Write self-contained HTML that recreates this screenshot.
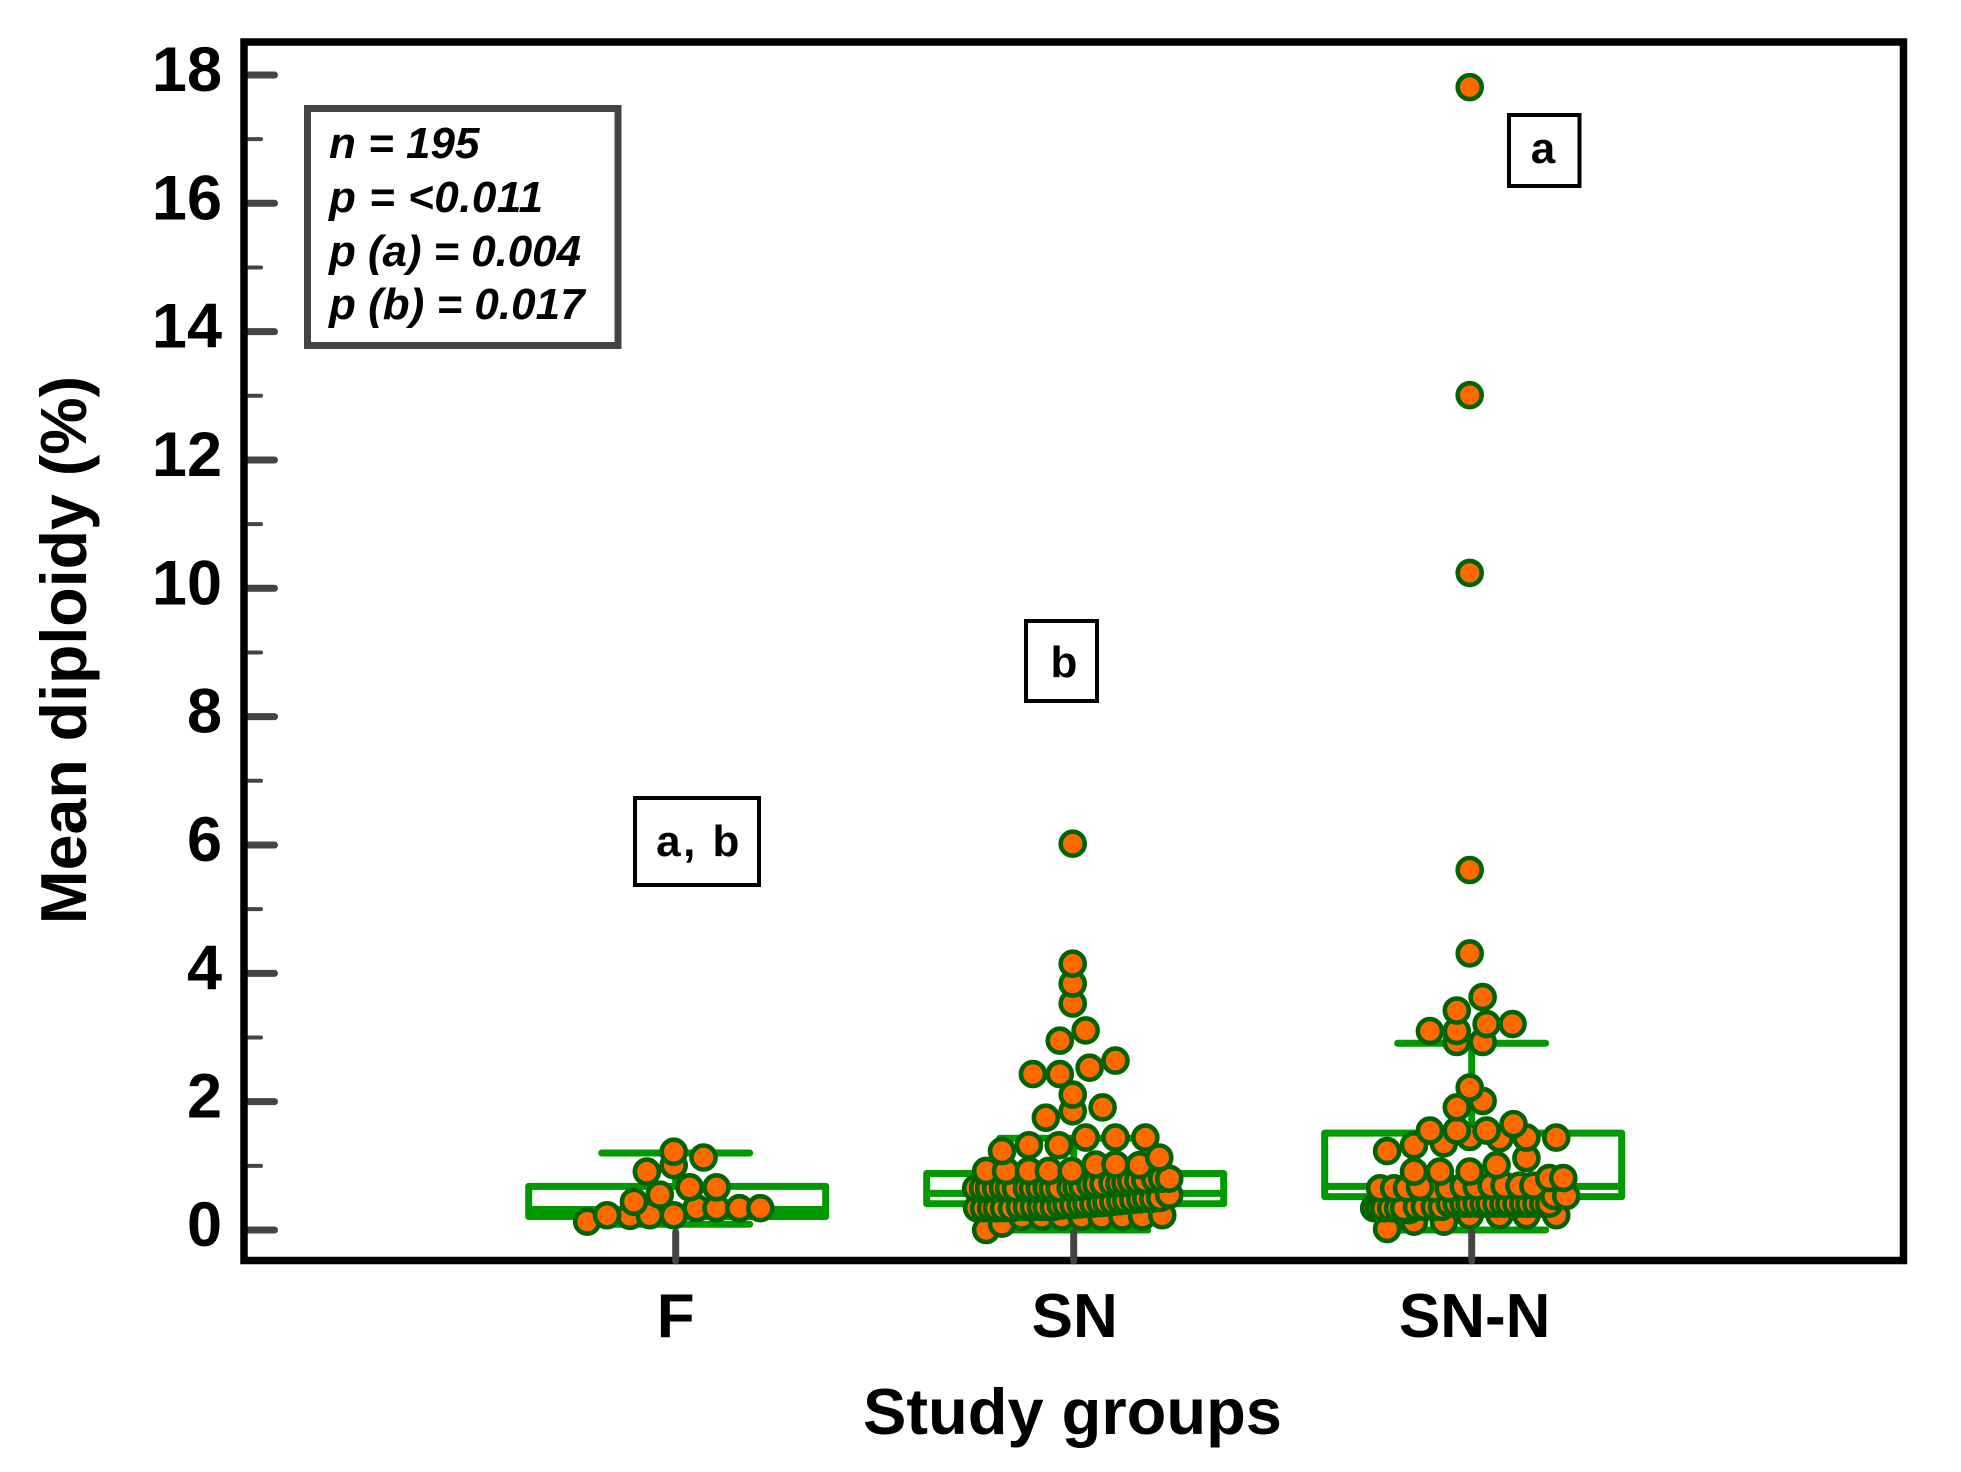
<!DOCTYPE html>
<html lang="en">
<head>
<meta charset="utf-8">
<title>Mean diploidy by study group</title>
<style>
  html, body { margin: 0; padding: 0; background: #fff; }
  svg { display: block; }
  text { font-family: "Liberation Sans", Arial, sans-serif; font-weight: bold; fill: #000; }
</style>
</head>
<body>
<svg id="chart" xmlns="http://www.w3.org/2000/svg" width="1961" height="1472" viewBox="0 0 1961 1472">
  <rect x="0" y="0" width="1961" height="1472" fill="#fff"/>
  <g id="y-ticks"></g>
  <g id="y-labels"></g>
  <g id="boxes"></g>
  <rect x="244" y="42" width="1659.5" height="1218.5" fill="none" stroke="#000" stroke-width="7.5"/>
  <g id="x-ticks"></g>
  <g id="x-labels"></g>
  <g id="points"></g>

  <text transform="translate(86,650) rotate(-90)" text-anchor="middle" font-size="64.5">Mean diploidy (%)</text>
  <text x="1072.5" y="1434" text-anchor="middle" font-size="65">Study groups</text>

  <g>
    <rect x="307.5" y="108.5" width="310.5" height="237" fill="#fff" stroke="#444" stroke-width="7"/>
    <text x="329" y="158" font-size="44" font-style="italic">n = 195</text>
    <text x="329" y="212" font-size="44" font-style="italic" letter-spacing="0.5">p = &lt;0.011</text>
    <text x="329" y="266" font-size="44" font-style="italic" letter-spacing="-0.1">p (a) = 0.004</text>
    <text x="329" y="319" font-size="44" font-style="italic">p (b) = 0.017</text>
  </g>

  <g>
    <rect x="635" y="798" width="124" height="87" fill="#fff" stroke="#000" stroke-width="4"/>
    <text x="699" y="856" text-anchor="middle" font-size="44" letter-spacing="2.5">a, b</text>
  </g>
  <g>
    <rect x="1026" y="621" width="71" height="80" fill="#fff" stroke="#000" stroke-width="4"/>
    <text x="1064" y="677" text-anchor="middle" font-size="44">b</text>
  </g>
  <g>
    <rect x="1509" y="115" width="70.5" height="71" fill="#fff" stroke="#000" stroke-width="4"/>
    <text x="1543" y="163" text-anchor="middle" font-size="44">a</text>
  </g>
</svg>
<script>
// ---- Axis data ----
var yMajorTicks = [0, 2, 4, 6, 8, 10, 12, 14, 16, 18];
var yMinorTicks = [1, 3, 5, 7, 9, 11, 13, 15, 17];
var categories = ['F', 'SN', 'SN-N'];

// ---- Box statistics (percent) ----
var whiskerLow  = [0.09, 0.00, 0.00];
var q1Values    = [0.21, 0.41, 0.52];
var medians     = [0.32, 0.57, 0.68];
var q3Values    = [0.68, 0.88, 1.51];
var whiskerHigh = [1.20, 1.43, 2.91];

// ---- Individual observations; offsets are swarm displacement in 1/400ths of a group spacing ----
var fValues = [0.13, 0.23, 0.22, 0.23, 0.23, 0.34, 0.34, 0.34, 0.34, 0.44, 0.55, 0.665, 0.665, 0.91, 1.01, 1.22, 1.13];
var fOffsets = [-89, -69, -46, -26, -2, 21, 41, 64, 85, -42, -16, 14, 41, -29, -2, -2, 28];

var snValues = [
  0.00, 0.10,
  0.21, 0.21, 0.21, 0.21, 0.21, 0.21, 0.21, 0.23,
  0.34, 0.34, 0.34, 0.34, 0.34, 0.34, 0.36, 0.36, 0.36, 0.36, 0.36, 0.36,
  0.38, 0.39, 0.39, 0.40, 0.41, 0.41, 0.42, 0.43, 0.44, 0.45, 0.46, 0.47, 0.48, 0.49, 0.49, 0.50,
  0.65, 0.65, 0.65, 0.65, 0.65, 0.65, 0.65, 0.65, 0.65, 0.65, 0.65, 0.65, 0.65,
  0.66, 0.67, 0.68, 0.70, 0.71, 0.72, 0.73, 0.73, 0.74, 0.76, 0.77, 0.78, 0.79, 0.80,
  0.55, 0.80,
  0.92, 0.92, 0.92, 0.92, 0.92, 1.02, 1.02, 1.01, 1.13, 1.23, 1.32, 1.32, 1.44, 1.44, 1.44,
  1.75, 1.85, 1.91, 2.11, 2.43, 2.43, 2.53, 2.64, 2.95, 3.11, 3.53, 3.84, 4.15, 6.02
];
var snOffsets = [
  -88, -72,
  -52, -32, -12, 8, 28, 49, 69, 89,
  -97, -90, -83, -77, -70, -62, -54, -47, -40, -33, -27, -20,
  -13, -7, 0, 7, 13, 20, 27, 33, 40, 47, 53, 60, 67, 73, 80, 87,
  -98, -91, -85, -78, -71, -65, -58, -47, -41, -34, -27, -21, -14,
  -3, 3, 9, 17, 23, 30, 39, 46, 52, 58, 65, 72, 82, 89,
  96, 96,
  -88, -68, -45, -25, -2, 22, 42, 66, 86, -72, -45, -15, 12, 42, 72,
  -28, -1, 29, -1, -41, -14, 16, 42, -14, 12, -1, -1, -1, -1
];

var snnValues = [
  0.015, 0.13, 0.13, 0.23, 0.23, 0.23, 0.23,
  0.34, 0.34, 0.34, 0.34, 0.34, 0.34, 0.31,
  0.36, 0.36, 0.36, 0.36,
  0.41, 0.41, 0.41, 0.41, 0.41, 0.41, 0.41, 0.41, 0.41, 0.41, 0.41, 0.41, 0.41, 0.41, 0.41, 0.41,
  0.53, 0.53,
  0.65, 0.65, 0.65, 0.67, 0.65, 0.65, 0.68, 0.68, 0.69, 0.69, 0.69, 0.69, 0.81, 0.81,
  0.91, 0.91, 0.91, 1.01, 1.12, 1.23, 1.32, 1.35, 1.43, 1.44, 1.44, 1.45, 1.55, 1.55, 1.55, 1.65,
  1.91, 2.01, 2.22, 2.93, 2.93, 3.10, 3.10, 3.21, 3.21, 3.42, 3.63, 4.31, 5.61, 10.24, 13.01, 17.81
];
var snnOffsets = [
  -85, -58, -28, -2, 28, 55, 85,
  -98, -93, -88, -81, -74, -68, -63,
  -55, -47, -37, -30,
  -22, -15, -8, -2, 5, 12, 18, 25, 32, 38, 45, 52, 58, 65, 72, 78,
  83, 95,
  -92, -78, -65, -52, -38, -23, -8, 5, 20, 33, 48, 62, 78, 92,
  -58, -32, -2, 25, 55, -85, -58, -28, 28, 55, 85, -2, -42, -15, 15, 42,
  -15, 11, -2, -15, 11, -42, -15, 41, 15, -15, 11, -2, -2, -2, -2, -2
];

var groupValues = [fValues, snValues, snnValues];
var groupOffsets = [fOffsets, snOffsets, snnOffsets];
var labelShift = [0, 1, 3];

// ---- Scales ----
function yScale(v) { return 1230 - 64.17 * v; }
function xScale(g) { return 675.7 + 398 * g; }
var OFFSET_UNIT = 1 / 400;

var NS = 'http://www.w3.org/2000/svg';
function make(tag, attrs) {
  var el = document.createElementNS(NS, tag);
  for (var k in attrs) { el.setAttribute(k, attrs[k]); }
  return el;
}
function drawLine(parent, x1, y1, x2, y2, color, width, name) {
  var el = make('line', { x1: x1, y1: y1, x2: x2, y2: y2, stroke: color, 'stroke-width': width, 'stroke-linecap': 'round' });
  
  
  parent.appendChild(el);
}

// ---- Y axis ----
var yTickLayer = document.getElementById('y-ticks');
var yLabelLayer = document.getElementById('y-labels');
yMajorTicks.forEach(function (v) {
  drawLine(yTickLayer, 248, yScale(v), 274.5, yScale(v), '#444', 7, 'y-major-tick');
  var t = make('text', { x: 222, y: yScale(v) + 16, 'text-anchor': 'end', 'font-size': 63 });
  
  
  t.textContent = String(v);
  yLabelLayer.appendChild(t);
});
yMinorTicks.forEach(function (v) {
  drawLine(yTickLayer, 248, yScale(v), 261, yScale(v), '#444', 4, 'y-minor-tick');
});

// ---- Box plots ----
var boxLayer = document.getElementById('boxes');
var GREEN = '#009900';
categories.forEach(function (name, i) {
  var c = xScale(i);
  var bc = c + 1.5;
  var g = make('g', {});
  
  
  boxLayer.appendChild(g);
  drawLine(g, c, yScale(q3Values[i]), c, yScale(whiskerHigh[i]), GREEN, 7, 'whisker-upper');
  drawLine(g, c, yScale(q1Values[i]), c, yScale(whiskerLow[i]), GREEN, 7, 'whisker-lower');
  drawLine(g, c - 74, yScale(whiskerHigh[i]), c + 74, yScale(whiskerHigh[i]), GREEN, 7, 'whisker-cap-upper');
  drawLine(g, c - 74, yScale(whiskerLow[i]), c + 74, yScale(whiskerLow[i]), GREEN, 7, 'whisker-cap-lower');
  var box = make('rect', {
    x: bc - 148.5, y: yScale(q3Values[i]), width: 297,
    height: yScale(q1Values[i]) - yScale(q3Values[i]),
    fill: '#fff', stroke: GREEN, 'stroke-width': 7, 'stroke-linejoin': 'round'
  });
  
  
  g.appendChild(box);
  drawLine(g, bc - 148.5, yScale(medians[i]), bc + 148.5, yScale(medians[i]), GREEN, 7, 'median-line');
});

// ---- X axis ----
var xTickLayer = document.getElementById('x-ticks');
var xLabelLayer = document.getElementById('x-labels');
categories.forEach(function (name, i) {
  drawLine(xTickLayer, xScale(i), 1232, xScale(i), 1261, '#444', 7, 'x-tick');
  var t = make('text', { x: xScale(i) + labelShift[i], y: 1337, 'text-anchor': 'middle', 'font-size': 62 });
  
  
  t.textContent = name;
  xLabelLayer.appendChild(t);
});

// ---- Points (drawn lowest value first, so higher values sit on top) ----
var pointLayer = document.getElementById('points');
categories.forEach(function (name, i) {
  var vals = groupValues[i];
  var offs = groupOffsets[i];
  var order = vals.map(function (v, k) { return k; });
  order.sort(function (a, b) { return (vals[a] - vals[b]) || (a - b); });
  order.forEach(function (k) {
    var dot = make('circle', {
      cx: xScale(i + offs[k] * OFFSET_UNIT), cy: yScale(vals[k]), r: 12,
      fill: '#ff6a00', stroke: '#006400', 'stroke-width': 4.6
    });
    
    
    pointLayer.appendChild(dot);
  });
});
</script>
</body>
</html>
